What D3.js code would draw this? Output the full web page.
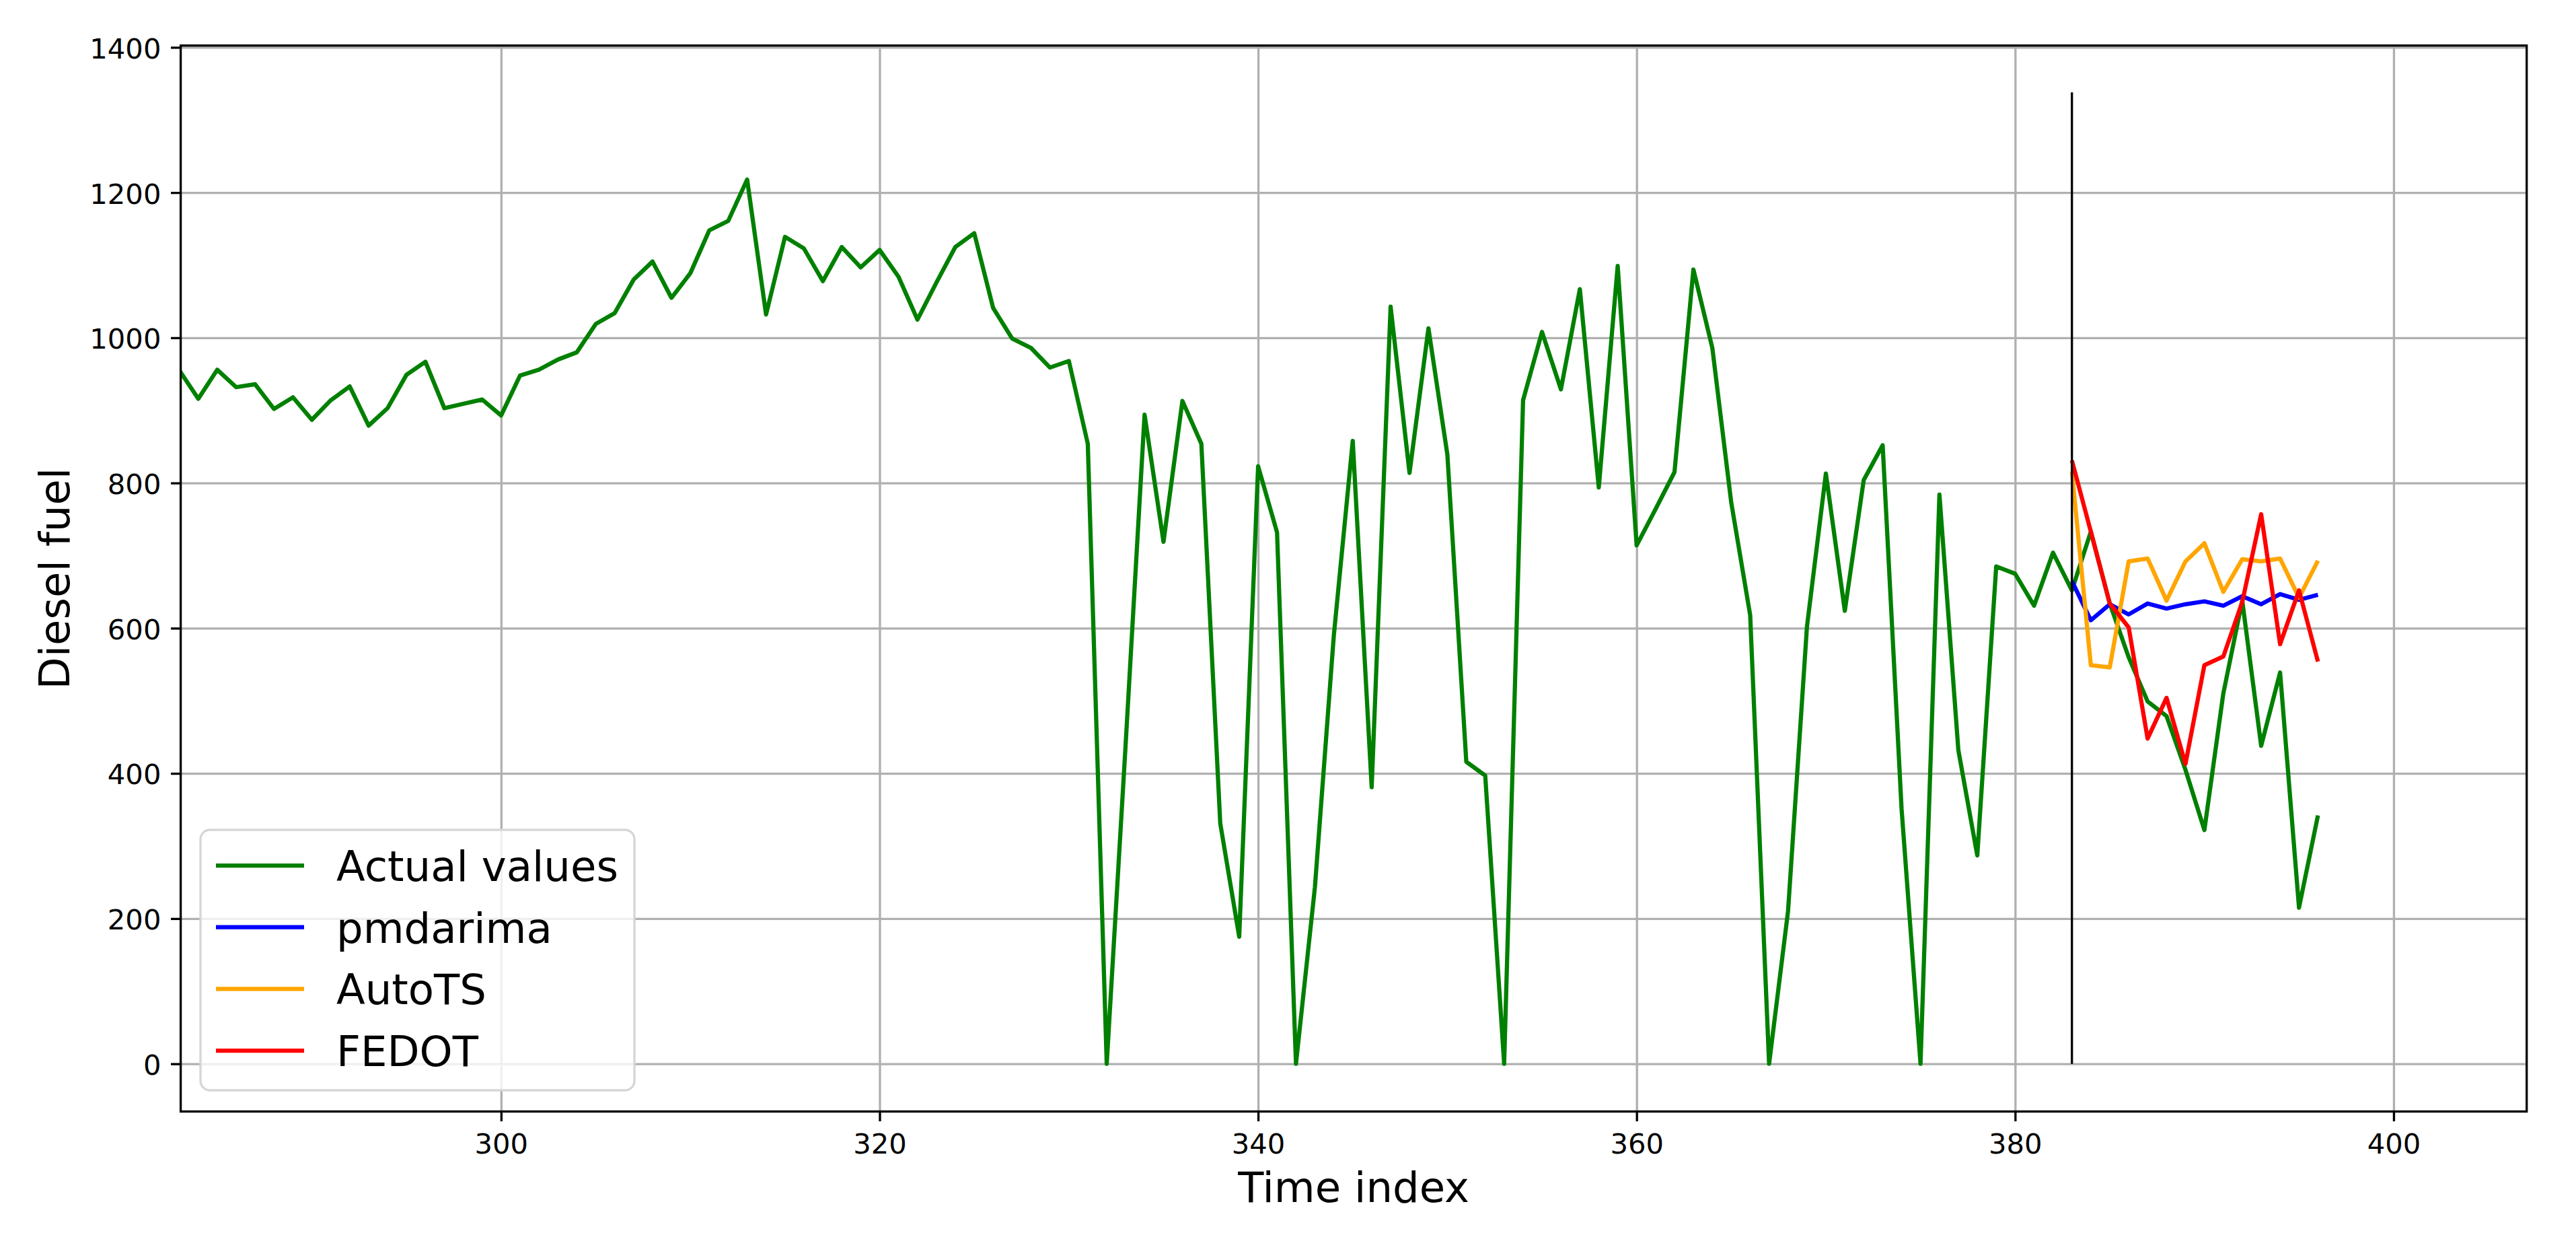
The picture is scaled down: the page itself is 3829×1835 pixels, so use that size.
<!DOCTYPE html>
<html>
<head>
<meta charset="utf-8">
<script src="https://cdn.jsdelivr.net/npm/d3@7"></script>
<style>
  body { margin: 0; background: #fff; }
  svg { display: block; font-family: "DejaVu Sans", sans-serif; }
</style>
</head>
<body>
<script>
// time index of the actual series, and of the forecast horizon
const actualStart = 283;
const actualValues = [
    955, 916, 956, 932, 936, 902, 918, 887, 914, 933,
    879, 903, 949, 967, 903, 909, 915, 893, 948, 956,
    970, 980, 1019, 1034, 1080, 1105, 1055, 1089, 1148, 1161,
    1218, 1032, 1139, 1123, 1078, 1125, 1097, 1121, 1084, 1025,
    1076, 1125, 1144, 1041, 999, 986, 959, 968, 854, 0,
    440, 894, 719, 913, 854, 331, 175, 823, 732, 0,
    243, 590, 858, 381, 1043, 814, 1013, 839, 416, 397,
    0, 914, 1008, 929, 1067, 794, 1099, 714, 764, 815,
    1094, 986, 773, 618, 0, 210, 602, 813, 624, 804,
    852, 351, 0, 784, 432, 287, 685, 675, 631, 704,
    652, 733, 634, 560, 499, 479, 405, 322, 510, 638,
    438, 539, 215, 342
];
const forecastStart = 383;
const pmdarimaValues = [665, 611, 633, 619, 634, 627, 633, 637, 631, 644, 633, 647, 639, 646];
const autotsValues = [816, 549, 546, 692, 696, 638, 692, 717, 650, 695, 692, 696, 642, 693];
const fedotValues = [831, 733, 634, 601, 448, 504, 413, 549, 561, 636, 757, 578, 652, 554];

// vertical marker where the forecast begins
const splitIndex = 383;
const splitTop = 1338;

const xTicks = [300, 320, 340, 360, 380, 400];
const yTicks = [0, 200, 400, 600, 800, 1000, 1200, 1400];

const series = [
    {name: 'Actual values', color: '#008000', start: actualStart, values: actualValues},
    {name: 'pmdarima', color: '#0000ff', start: forecastStart, values: pmdarimaValues},
    {name: 'AutoTS', color: '#ffa500', start: forecastStart, values: autotsValues},
    {name: 'FEDOT', color: '#ff0000', start: forecastStart, values: fedotValues}
];

const W = 3829, H = 1835;
const margin = {left: 268.6, right: 73.3, top: 67.7, bottom: 183.5};
const innerW = W - margin.left - margin.right;
const innerH = H - margin.top - margin.bottom;

const lw = 6.25;       // 1.5pt at 300 dpi
const thin = 3.33;     // 0.8pt
const tickFont = 41.7; // 10pt
const labelFont = 62.5; // 15pt

const svg = d3.select('body').append('svg')
    .attr('width', W)
    .attr('height', H);

const x = d3.scaleLinear().domain([283.07, 407.03]).range([0, innerW]);
const y = d3.scaleLinear().domain([-65.7, 1402.5]).range([innerH, 0]);

const g = svg.append('g').attr('transform', `translate(${margin.left},${margin.top})`);

g.append('clipPath').attr('id', 'plot-clip')
    .append('rect').attr('width', innerW).attr('height', innerH);

// grid
g.append('g')
    .attr('transform', `translate(0,${innerH})`)
    .call(d3.axisBottom(x).tickValues(xTicks).tickSize(-innerH).tickFormat(''))
    .call(a => a.select('.domain').remove())
    .call(a => a.selectAll('line').attr('stroke', '#b0b0b0').attr('stroke-width', thin));

g.append('g')
    .call(d3.axisLeft(y).tickValues(yTicks).tickSize(-innerW).tickFormat(''))
    .call(a => a.select('.domain').remove())
    .call(a => a.selectAll('line').attr('stroke', '#b0b0b0').attr('stroke-width', thin));

// lines
const plot = g.append('g').attr('clip-path', 'url(#plot-clip)');

const line = d3.line()
    .x(d => x(d[0]))
    .y(d => y(d[1]));

series.forEach(s => {
    const pts = s.values.map((v, i) => [s.start + i, v]);
    plot.append('path')
        .datum(pts)
        .attr('fill', 'none')
        .attr('stroke', s.color)
        .attr('stroke-width', lw)
        .attr('stroke-linejoin', 'round')
        .attr('stroke-linecap', 'butt')
        .attr('d', line);
});

plot.append('line')
    .attr('x1', x(splitIndex)).attr('x2', x(splitIndex))
    .attr('y1', y(0)).attr('y2', y(splitTop))
    .attr('stroke', '#000')
    .attr('stroke-width', thin);

// spines
g.append('rect')
    .attr('width', innerW).attr('height', innerH)
    .attr('fill', 'none')
    .attr('stroke', '#000')
    .attr('stroke-width', thin);

// axes
const xAxis = g.append('g')
    .attr('transform', `translate(0,${innerH})`)
    .call(d3.axisBottom(x).tickValues(xTicks).tickSize(14.6).tickPadding(14.6).tickFormat(d3.format('d')));
const yAxis = g.append('g')
    .call(d3.axisLeft(y).tickValues(yTicks).tickSize(14.6).tickPadding(14.6).tickFormat(d3.format('d')));

[xAxis, yAxis].forEach(a => {
    a.select('.domain').remove();
    a.selectAll('line').attr('stroke', '#000').attr('stroke-width', thin);
    a.selectAll('text')
        .attr('fill', '#000')
        .style('font-size', tickFont + 'px')
        .style('font-family', '"DejaVu Sans", sans-serif');
});
xAxis.selectAll('text').attr('dy', '0.8em');
yAxis.selectAll('text').attr('dy', '0.38em');

// axis labels
svg.append('text')
    .attr('x', margin.left + innerW / 2)
    .attr('y', 1786)
    .attr('text-anchor', 'middle')
    .style('font-size', labelFont + 'px')
    .text('Time index');

svg.append('text')
    .attr('transform', `translate(103,${margin.top + innerH / 2}) rotate(-90)`)
    .attr('text-anchor', 'middle')
    .style('font-size', labelFont + 'px')
    .text('Diesel fuel');

// legend
const legend = svg.append('g').attr('transform', 'translate(298,1233)');
legend.append('rect')
    .attr('width', 645).attr('height', 387)
    .attr('rx', 14).attr('ry', 14)
    .attr('fill', 'rgba(255,255,255,0.8)')
    .attr('stroke', '#d6d6d6')
    .attr('stroke-width', thin);

series.forEach((s, i) => {
    const cy = 53 + i * 91.7;
    legend.append('line')
        .attr('x1', 23).attr('x2', 154)
        .attr('y1', cy).attr('y2', cy)
        .attr('stroke', s.color)
        .attr('stroke-width', lw);
    legend.append('text')
        .attr('x', 202)
        .attr('y', cy + 23)
        .style('font-size', labelFont + 'px')
        .text(s.name);
});
</script>
</body>
</html>
